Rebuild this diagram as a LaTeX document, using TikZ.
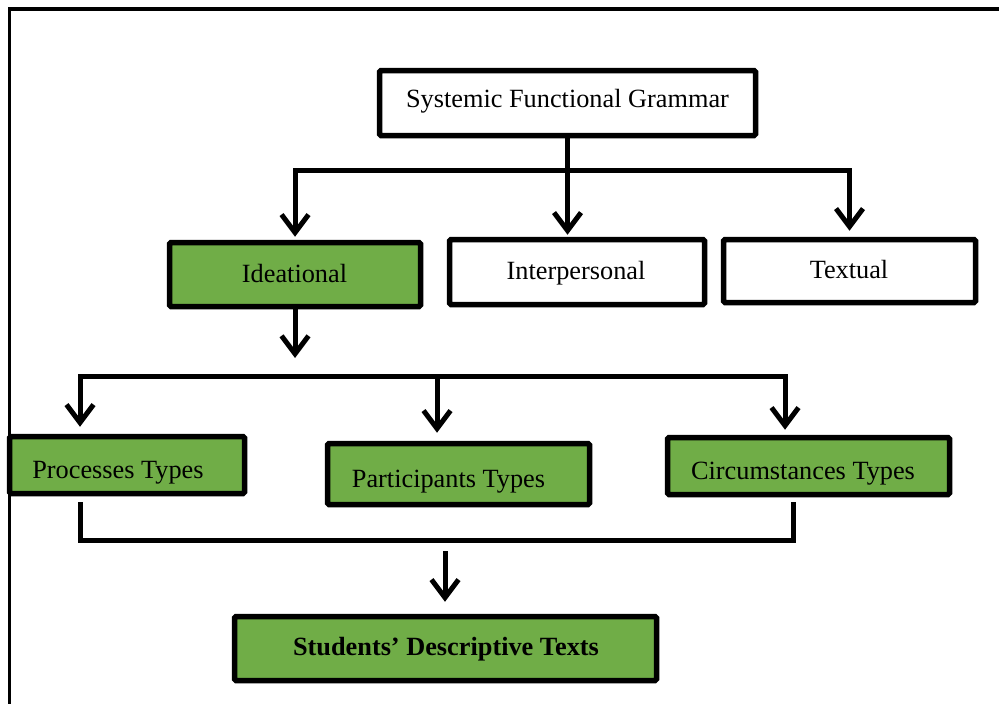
\documentclass[tikz,border=0pt]{standalone}
\usepackage{fontspec}
\setmainfont{Liberation Serif}
\usetikzlibrary{arrows.meta}
\definecolor{boxgreen}{HTML}{70AD47}
\begin{document}
\begin{tikzpicture}[x=1pt,y=-1pt,
  box/.style={draw=black, line width=5.5pt, rounded corners=1.5pt, inner sep=0pt},
  wbox/.style={box, fill=white},
  gbox/.style={box, fill=boxgreen},
  lbl/.style={anchor=base, inner sep=0pt, font=\fontsize{26.3}{30}\selectfont},
  conn/.style={line width=5pt},
  arr/.style={conn, -{Straight Barb[length=18pt,width=27pt]}},
  framel/.style={line width=3.5pt}]
\useasboundingbox (0,0) rectangle (999,704);
\fill[white] (0,0) rectangle (999,704);
% outer frame
\draw[framel] (9.5,704) -- (9.5,9) -- (999,9);

% boxes
\node[wbox, minimum width=376pt, minimum height=65pt] (sfg) at (567.5,103) {};
\node[gbox, minimum width=251pt, minimum height=64pt] (idea) at (295,274.5) {};
\node[wbox, minimum width=255pt, minimum height=65pt] (inter) at (577,272) {};
\node[wbox, minimum width=252pt, minimum height=63pt] (textual) at (849.5,271) {};
\node[gbox, minimum width=235pt, minimum height=57pt] (proc) at (127,465) {};
\node[gbox, minimum width=262pt, minimum height=61pt] (part) at (458.5,474) {};
\node[gbox, minimum width=282pt, minimum height=57pt] (circ) at (808.5,466) {};
\node[gbox, minimum width=422pt, minimum height=64pt] (stud) at (445.5,648.5) {};

% texts
\node[lbl] (sfgT) at (567.5,107) {Systemic Functional Grammar};
\node[lbl] (ideaT) at (294.5,282) {Ideational};
\node[lbl] (interT) at (576,279) {Interpersonal};
\node[lbl] (textualT) at (849,278) {Textual};
\node[lbl] (procT) at (118,478) {Processes Types};
\node[lbl] (partT) at (448.5,487) {Participants Types};
\node[lbl] (circT) at (803,479) {Circumstances Types};
\node[lbl, font=\fontsize{26.3}{30}\selectfont\bfseries] (studT) at (446,655) {Students’ Descriptive Texts};

% top level connectors
\coordinate (j1) at (567.5,170);
\draw[arr, shorten >=2pt] (sfg.south) -- (sfg.south |- inter.north);
\draw[arr, shorten >=3pt] (j1) -| (idea.north);
\draw[arr, shorten >=6pt] (j1) -| (textual.north);

% ideational down
\coordinate (ia) at (295,358);
\draw[arr] (idea.south) -- (ia);

% bar to the three types
\coordinate (bl) at (80,376);
\coordinate (br) at (785,376);
\coordinate (bm) at (437,376);
\draw[arr, shorten >=7pt] (bm) -- (bl) -- (bl |- proc.north);
\draw[arr, shorten >=5pt] (bm) -- (br) -- (br |- circ.north);
\draw[arr, shorten >=8pt] (bm) -- (bm |- part.north);

% bottom join
\coordinate (pb) at (80,502);
\coordinate (cb) at (793,502);
\coordinate (mj) at (445,540);
\draw[conn] (pb) |- (mj) -| (cb);
\coordinate (sa) at (445,551);
\draw[arr, shorten >=12pt] (sa) -- (sa |- stud.north);
\end{tikzpicture}
\end{document}
